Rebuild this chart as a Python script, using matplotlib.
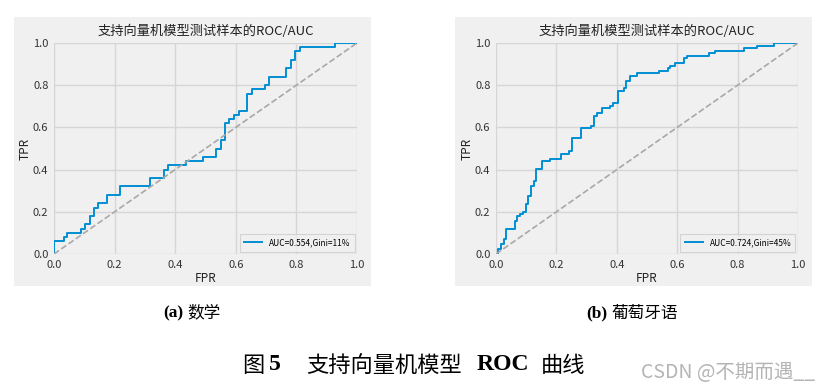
import numpy as np
import matplotlib
matplotlib.use("Agg")
import matplotlib.pyplot as plt
from matplotlib.patches import Rectangle

plt.rcParams['font.family'] = ['Noto Sans CJK SC', 'DejaVu Sans']
plt.rcParams['axes.unicode_minus'] = False

# left panel (a) 数学 : step ROC curve
fpr_a = [0.0, 0.0, 0.032, 0.032, 0.044, 0.044, 0.089, 0.089, 0.103, 0.103, 0.118, 0.118,
         0.131, 0.131, 0.145, 0.145, 0.176, 0.176, 0.218, 0.218, 0.318, 0.318, 0.363, 0.363,
         0.377, 0.377, 0.436, 0.436, 0.493, 0.493, 0.536, 0.536, 0.552, 0.552, 0.565, 0.565,
         0.579, 0.579, 0.593, 0.593, 0.609, 0.609, 0.638, 0.638, 0.653, 0.653, 0.698, 0.698,
         0.711, 0.711, 0.767, 0.767, 0.781, 0.781, 0.797, 0.797, 0.811, 0.811, 0.926, 0.926, 1.0]
tpr_a = [0.0, 0.06, 0.06, 0.08, 0.08, 0.10, 0.10, 0.12, 0.12, 0.14, 0.14, 0.18,
         0.18, 0.22, 0.22, 0.24, 0.24, 0.28, 0.28, 0.32, 0.32, 0.36, 0.36, 0.40,
         0.40, 0.42, 0.42, 0.44, 0.44, 0.46, 0.46, 0.50, 0.50, 0.54, 0.54, 0.62,
         0.62, 0.64, 0.64, 0.66, 0.66, 0.68, 0.68, 0.76, 0.76, 0.78, 0.78, 0.80,
         0.80, 0.84, 0.84, 0.88, 0.88, 0.92, 0.92, 0.96, 0.96, 0.98, 0.98, 1.0, 1.0]
label_a = "AUC=0.554,Gini=11%"

# right panel (b) 葡萄牙语 : step points (x where tpr jumps, new tpr)
jump_x_b = [0.0, 0.007, 0.017, 0.027, 0.034, 0.062, 0.071, 0.081, 0.090, 0.098, 0.107, 0.115,
            0.125, 0.134, 0.152, 0.178, 0.214, 0.242, 0.251, 0.280, 0.314, 0.323, 0.333,
            0.350, 0.377, 0.386, 0.403, 0.423, 0.432, 0.443, 0.468, 0.540, 0.568, 0.577,
            0.594, 0.624, 0.632, 0.704, 0.724, 0.822, 0.864, 0.922]
jump_y_b = [0.0, 0.024, 0.048, 0.071, 0.119, 0.155, 0.178, 0.190, 0.200, 0.238, 0.274, 0.321,
            0.345, 0.405, 0.440, 0.452, 0.476, 0.488, 0.548, 0.595, 0.607, 0.655, 0.667,
            0.690, 0.702, 0.714, 0.774, 0.786, 0.821, 0.845, 0.857, 0.869, 0.881, 0.893,
            0.905, 0.929, 0.940, 0.952, 0.964, 0.976, 0.988, 1.0]
label_b = "AUC=0.724,Gini=45%"

title = "支持向量机模型测试样本的ROC/AUC"
ticks = [0.0, 0.2, 0.4, 0.6, 0.8, 1.0]

W, H = 829, 389
fig = plt.figure(figsize=(W / 100, H / 100), dpi=100)
fig.patch.set_facecolor('white')


def px_rect(x0, y0, x1, y1):
    return [x0 / W, 1 - y1 / H, (x1 - x0) / W, (y1 - y0) / H]


def panel(bg, box, fx, fy, lab):
    r = px_rect(*bg)
    fig.patches.append(Rectangle((r[0], r[1]), r[2], r[3], transform=fig.transFigure,
                                 facecolor='#f0f0f0', edgecolor='none', zorder=-5))
    ax = fig.add_axes(px_rect(*box))
    ax.set_zorder(2)
    ax.set_facecolor('#f0f0f0')
    for s in ax.spines.values():
        s.set_visible(False)
    ax.grid(True, color='#d6d6d6', linewidth=1.0)
    ax.set_axisbelow(True)
    ax.plot(fx, fy, color='#008fd5', linewidth=1.4, label=lab)
    ax.plot([0, 1], [0, 1], color='#a8a8a8', linestyle='--', linewidth=1.2)
    ax.set_xlim(0, 1.0)
    ax.set_ylim(0, 1.0)
    ax.set_xticks(ticks)
    ax.set_yticks(ticks)
    ax.set_xticklabels(["%.1f" % t for t in ticks])
    ax.set_yticklabels(["%.1f" % t for t in ticks])
    ax.tick_params(length=0, labelsize=8, colors='#333333', pad=4)
    ax.set_title(title, fontsize=9.5, pad=6, color='#222222')
    ax.set_xlabel("FPR", fontsize=8.5, labelpad=2, color='#222222')
    ax.set_ylabel("TPR", fontsize=8.5, labelpad=1, color='#222222')
    leg = ax.legend(loc='lower right', fontsize=6, frameon=True, fancybox=False,
                    handlelength=2.2, borderpad=0.5, borderaxespad=0.3)
    leg.get_frame().set_facecolor('#f0f0f0')
    leg.get_frame().set_edgecolor('#cccccc')
    leg.get_frame().set_linewidth(0.8)
    return ax


panel((14, 17, 371, 286), (54, 43, 357, 254), fpr_a, tpr_a, label_a)

fx_b, fy_b = [], []
for i in range(len(jump_x_b)):
    if i > 0:
        fx_b.append(jump_x_b[i])
        fy_b.append(jump_y_b[i - 1])
    fx_b.append(jump_x_b[i])
    fy_b.append(jump_y_b[i])
fx_b.append(1.0)
fy_b.append(1.0)
panel((455, 17, 812, 286), (496, 43, 798, 254), fx_b, fy_b, label_b)

# captions
serif = ['Liberation Serif', 'DejaVu Serif']
cy = 1 - 313 / H
fig.text(183 / W, cy, "(a)", family=serif, weight='bold', fontsize=12.5, ha='right', va='center')
fig.text(187 / W, cy, "数学", fontsize=12, ha='left', va='center')
fig.text(607 / W, cy, "(b)", family=serif, weight='bold', fontsize=12.5, ha='right', va='center')
fig.text(611 / W, cy, "葡萄牙语", fontsize=12, ha='left', va='center')

by = 1 - 365 / H
fig.text(242 / W, by, "图", fontsize=16, ha='left', va='center')
fig.text(269 / W, by, "5", family=serif, weight='bold', fontsize=17, ha='left', va='center')
fig.text(306 / W, by, "支持向量机模型", fontsize=16, ha='left', va='center')
fig.text(477 / W, by, "ROC", family=serif, weight='bold', fontsize=17, ha='left', va='center')
fig.text(541 / W, by, "曲线", fontsize=16, ha='left', va='center')
fig.text(641 / W, 1 - 372 / H, "CSDN @不期而遇__", fontsize=14, color='#b4b4b4',
         ha='left', va='center')

fig.savefig("out.png", dpi=100)
